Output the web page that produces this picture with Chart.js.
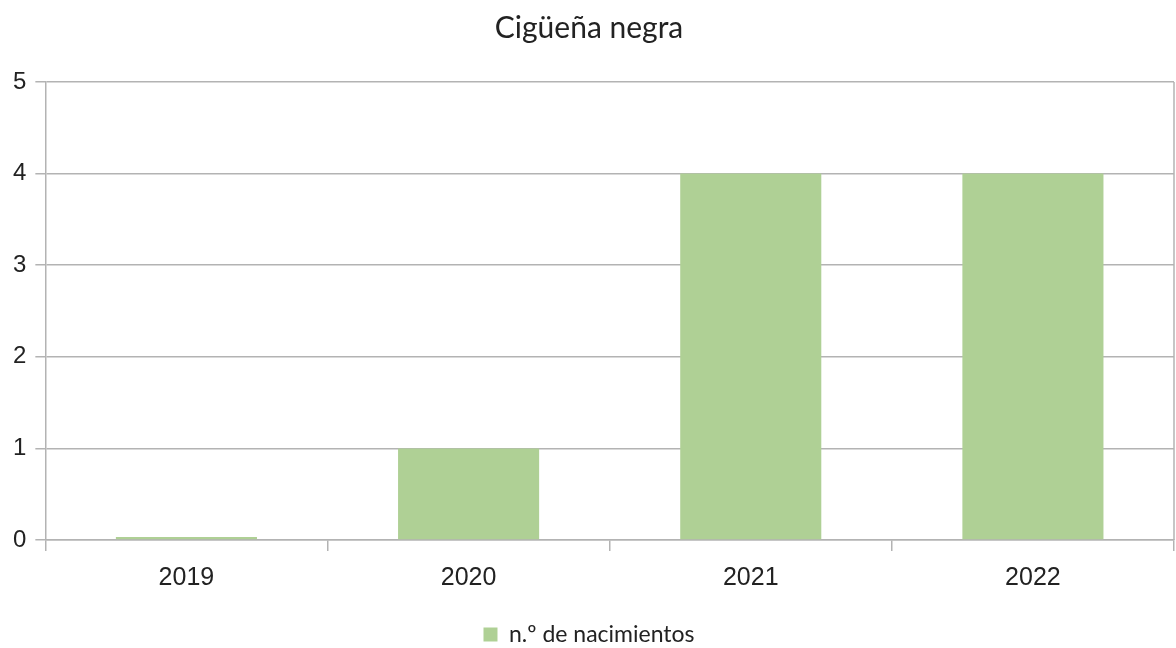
<!DOCTYPE html>
<html>
<head>
<meta charset="utf-8">
<script src="https://cdn.jsdelivr.net/npm/chart.js@4/dist/chart.umd.min.js"></script>
<style>
  html, body { margin: 0; padding: 0; background: #fff; }
  #wrap { width: 1176px; height: 648px; }
</style>
</head>
<body>
<div id="wrap"><canvas id="myChart"></canvas></div>
<script>
const years = ['2019', '2020', '2021', '2022'];
const births = [0, 1, 4, 4];
const yTicks = [0, 1, 2, 3, 4, 5];

const gridGrey = '#b3b3b3';

// plot area border on the right side
const rightBorder = {
    id: 'rightBorder',
    afterDraw(chart) {
        const a = chart.chartArea;
        const c = chart.ctx;
        c.save();
        c.strokeStyle = gridGrey;
        c.lineWidth = 1.5;
        c.beginPath();
        c.moveTo(a.right, a.top);
        c.lineTo(a.right, a.bottom);
        c.stroke();
        c.restore();
    }
};

const ctx = document.getElementById('myChart');

new Chart(ctx, {
    type: 'bar',
    data: {
        labels: years,
        datasets: [{
            label: 'n.º de nacimientos',
            data: births,
            backgroundColor: '#afd095',
            borderWidth: 0,
            barPercentage: 0.5,
            categoryPercentage: 1,
            minBarLength: 3
        }]
    },
    options: {
        responsive: true,
        maintainAspectRatio: false,
        animation: false,
        layout: { padding: { left: 4, right: 2, top: 0, bottom: -8 } },
        scales: {
            x: {
                offset: true,
                afterFit: axis => { axis.height += 8; },
                grid: {
                    offset: true,
                    drawOnChartArea: false,
                    drawTicks: true,
                    tickLength: 11,
                    color: gridGrey,
                    lineWidth: 1.5
                },
                border: { color: gridGrey, width: 1.5 },
                ticks: {
                    color: '#222',
                    padding: 12,
                    font: { family: 'Liberation Sans', size: 25 }
                }
            },
            y: {
                min: 0,
                max: 5,
                afterBuildTicks: axis => {
                    axis.ticks = yTicks.map(v => ({ value: v }));
                },
                grid: {
                    color: gridGrey,
                    lineWidth: 1.5,
                    tickLength: 10
                },
                border: { color: gridGrey, width: 1.5 },
                ticks: {
                    color: '#222',
                    padding: 9,
                    font: { family: 'Liberation Sans', size: 24 }
                }
            }
        },
        plugins: {
            title: {
                display: true,
                text: 'Cigüeña negra',
                color: '#222',
                font: { family: 'Lato', size: 30, weight: 'normal' },
                padding: { top: 10, bottom: 36 }
            },
            legend: {
                position: 'bottom',
                labels: {
                    color: '#222',
                    boxWidth: 14,
                    boxHeight: 14,
                    padding: 10,
                    font: { family: 'Lato', size: 23 }
                }
            },
            tooltip: { enabled: false }
        }
    },
    plugins: [rightBorder]
});
</script>
</body>
</html>
